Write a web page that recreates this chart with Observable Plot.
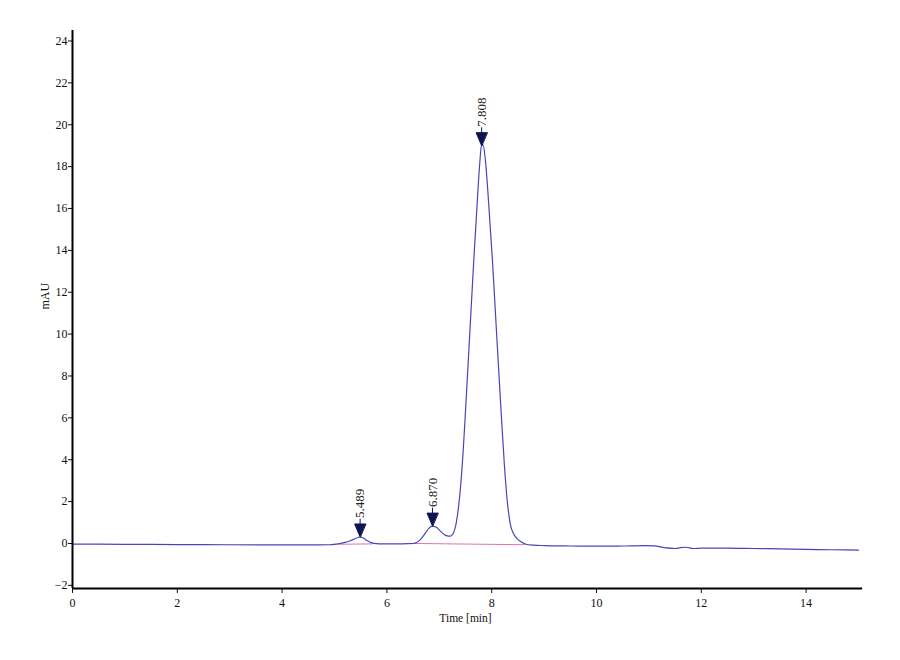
<!DOCTYPE html>
<html>
<head>
<meta charset="utf-8">
<script src="https://cdn.jsdelivr.net/npm/d3@7"></script>
<script src="https://cdn.jsdelivr.net/npm/@observablehq/plot@0.6"></script>
<style>
  html, body { margin: 0; padding: 0; background: #ffffff; }
  #chart { width: 900px; height: 660px; padding-top: 0; }
  svg { font-family: "Liberation Serif", "DejaVu Serif", serif; }
</style>
</head>
<body>
<div id="chart"></div>
<script>
// Chromatogram trace (time in min, absorbance in mAU)
const time = [0, 1, 2, 3, 4, 4.5, 4.9, 5.0, 5.1, 5.2, 5.3, 5.4, 5.49, 5.55, 5.62, 5.7, 5.8, 5.9, 6.0, 6.2, 6.4,
  6.5, 6.55, 6.6, 6.65, 6.7, 6.75, 6.8, 6.87, 6.95, 7.0, 7.05, 7.1, 7.15, 7.2, 7.22, 7.27, 7.32, 7.387, 7.44, 7.515, 7.585,
  7.655, 7.73, 7.77, 7.805, 7.835, 7.88, 7.934, 8.017, 8.09, 8.163, 8.24, 8.29, 8.354, 8.42, 8.48, 8.56, 8.67, 8.8,
  9.0, 9.5, 10.0, 10.5, 10.9, 11.1, 11.3, 11.5, 11.6, 11.7, 11.85, 12.0, 12.5, 13.0, 13.5, 14.0, 14.5, 15.0];
const mAU = [-0.03, -0.04, -0.05, -0.06, -0.07, -0.07, -0.06, -0.04, 0.0, 0.05, 0.13, 0.24, 0.31, 0.26, 0.14, 0.04, -0.01, -0.02, -0.02, -0.02, -0.01,
  0.0, 0.03, 0.1, 0.22, 0.38, 0.55, 0.72, 0.83, 0.76, 0.64, 0.52, 0.42, 0.36, 0.35, 0.36, 0.5, 0.94, 2.21, 3.82, 7.0, 10.18,
  13.4, 16.55, 18.1, 19.0, 19.05, 18.3, 16.55, 13.4, 10.18, 7.0, 3.82, 2.21, 0.94, 0.45, 0.24, 0.08, -0.05, -0.08,
  -0.1, -0.12, -0.13, -0.12, -0.1, -0.11, -0.2, -0.24, -0.2, -0.18, -0.24, -0.22, -0.22, -0.24, -0.26, -0.28, -0.3, -0.32];

// Integration baselines (pink)
const baseTime = [4.98, 5.72, 6.55, 8.62];
const baseValue = [-0.04, -0.02, 0.0, -0.06];
const baseSeg = [1, 1, 2, 2];

// Peak annotations
const peakTime = [5.489, 6.870, 7.808];
const peakHeight = [0.31, 0.83, 19.0];
const peakLabel = ["5.489", "6.870", "7.808"];

// Tick values
const xTicks = [0, 2, 4, 6, 8, 10, 12, 14];
const yTicks = [-2, 0, 2, 4, 6, 8, 10, 12, 14, 16, 18, 20, 22, 24];

const trace = time.map((t, i) => ({t, v: mAU[i]}));
const baselines = baseTime.map((t, i) => ({t, v: baseValue[i], s: baseSeg[i]}));
const peaks = peakTime.map((t, i) => ({t, v: peakHeight[i], label: peakLabel[i]}));

const XMIN = 0, XMAX = 15, YMIN = -2.15, YMAX = 24.5;

// Arrow shape: filled triangle with tip at the peak, plus a short stem above
const arrowShape = {
  draw(context, l) {
    context.moveTo(0, 0);
    context.lineTo(-5.5, -13);
    context.lineTo(5.5, -13);
    context.closePath();
    context.moveTo(0, -13);
    context.lineTo(0, -l);
  }
};

const chart = Plot.plot({
  width: 900,
  height: 640,
  marginTop: 30,
  marginLeft: 72,
  marginRight: 42,
  marginBottom: 52,
  style: {fontFamily: "'Liberation Serif', serif", fontSize: "12px", background: "#ffffff", color: "#111"},
  x: {domain: [XMIN, XMAX]},
  y: {domain: [YMIN, YMAX]},
  marks: [
    Plot.axisX({ticks: xTicks, tickSize: 5, tickPadding: 5, label: null, fontSize: 12}),
    Plot.axisY({ticks: yTicks, tickSize: 4, tickPadding: 1, label: null, fontSize: 12}),
    Plot.line(baselines, {x: "t", y: "v", z: "s", stroke: "#e070b0", strokeWidth: 1}),
    Plot.line(trace, {x: "t", y: "v", stroke: "#4646bc", strokeWidth: 1.2, curve: "monotone-x"}),
    Plot.vector(peaks, {x: "t", y: "v", length: 18, rotate: 0, anchor: "start", shape: arrowShape,
      fill: "#0d1550", stroke: "#0d1550", strokeWidth: 1}),
    Plot.text(peaks, {x: "t", y: "v", text: "label", rotate: -90, textAnchor: "start", dy: -19,
      fontSize: 13, fill: "#222"}),
    Plot.ruleX([XMIN], {y1: YMIN, y2: YMAX, stroke: "#000", strokeWidth: 2}),
    Plot.ruleY([YMIN], {x1: XMIN, x2: 15.08, stroke: "#000", strokeWidth: 2}),
    Plot.text(["mAU"], {frameAnchor: "left", dx: -27, rotate: -90, fontSize: 12, fill: "#111"}),
    Plot.text(["Time [min]"], {frameAnchor: "bottom", dx: 0, dy: 33, fontSize: 11.5, fill: "#111"})
  ]
});
document.getElementById("chart").appendChild(chart);
</script>
</body>
</html>
